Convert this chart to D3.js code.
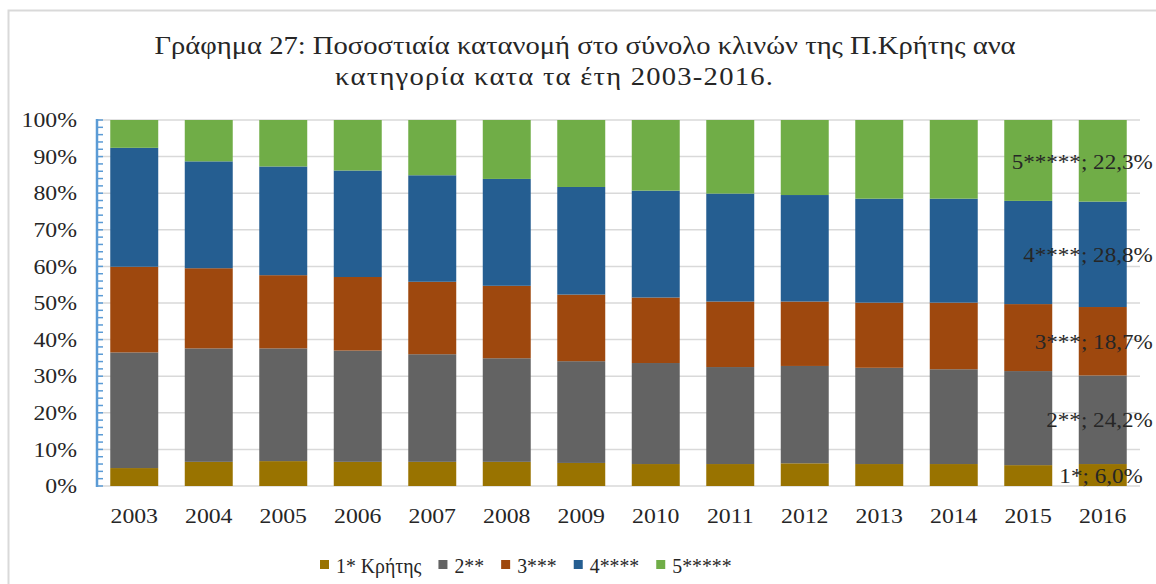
<!DOCTYPE html>
<html>
<head>
<meta charset="utf-8">
<script src="https://cdn.jsdelivr.net/npm/d3@7"></script>
<style>
  body { margin: 0; background: #fff; }
  svg { display: block; font-family: "Liberation Serif", "Times New Roman", serif; }
</style>
</head>
<body>
<svg id="chart" width="1156" height="584"></svg>
<script>
// years on the x axis
const years = ["2003","2004","2005","2006","2007","2008","2009","2010","2011","2012","2013","2014","2015","2016"];

// percentage of beds per category
const star1 = [4.9, 6.6, 6.8, 6.6, 6.6, 6.6, 6.3, 6.0, 6.0, 6.2, 6.0, 6.0, 5.7, 6.0];
const star2 = [31.6, 31.0, 30.8, 30.4, 29.4, 28.3, 27.8, 27.6, 26.5, 26.6, 26.3, 25.9, 25.7, 24.2];
const star3 = [23.4, 21.9, 20.0, 20.1, 19.8, 19.8, 18.2, 17.9, 17.9, 17.6, 17.8, 18.2, 18.3, 18.7];
const star4 = [32.5, 29.2, 29.7, 29.1, 29.1, 29.2, 29.4, 29.2, 29.5, 29.1, 28.4, 28.4, 28.2, 28.8];
const star5 = [7.6, 11.3, 12.7, 13.8, 15.1, 16.1, 18.3, 19.3, 20.1, 20.5, 21.5, 21.5, 22.1, 22.3];

const keys = ["s1", "s2", "s3", "s4", "s5"];
const legendNames = ["1* Κρήτης", "2**", "3***", "4****", "5*****"];
const labelNames = ["1*", "2**", "3***", "4****", "5*****"];
const colors = ["#997300", "#636363", "#9e480e", "#255e91", "#70ad47"];
const yTicks = [0, 10, 20, 30, 40, 50, 60, 70, 80, 90, 100];

const title1 = "Γράφημα 27: Ποσοστιαία κατανομή στο σύνολο κλινών της Π.Κρήτης ανα";
const title2 = "κατηγορία κατα τα έτη 2003-2016.";

const data = years.map((y, i) => ({
  year: y, s1: star1[i], s2: star2[i], s3: star3[i], s4: star4[i], s5: star5[i]
}));

const svg = d3.select("#chart");
const margin = {top: 120, right: 16, bottom: 98, left: 97};
const W = +svg.attr("width"), H = +svg.attr("height");
const ink = "#262626";

// the source text is a little wider than Liberation Serif, so stretch it
function stretched(sel, sx) {
  return sel.attr("transform", function() {
    const t = d3.select(this);
    return `translate(${t.attr("x")},${t.attr("y")}) scale(${sx},1)`;
  }).attr("x", 0).attr("y", 0);
}

// chart frame (cropped at right and bottom in the source)
svg.append("path")
  .attr("d", `M8.5,${H} V10.5 H${W}`)
  .attr("fill", "none")
  .attr("stroke", "#d9d9d9")
  .attr("stroke-width", 2);

const x = d3.scaleBand()
  .domain(years)
  .range([margin.left, W - margin.right])
  .paddingInner(0.356)
  .paddingOuter(0.178);

const y = d3.scaleLinear()
  .domain([0, 100])
  .range([H - margin.bottom, margin.top]);

const color = d3.scaleOrdinal().domain(keys).range(colors);

// gridlines
svg.append("g")
  .selectAll("line")
  .data(yTicks)
  .join("line")
  .attr("x1", margin.left)
  .attr("x2", W - margin.right)
  .attr("y1", d => y(d))
  .attr("y2", d => y(d))
  .attr("stroke", "#d9d9d9")
  .attr("stroke-width", 1.5);

// stacked bars
const series = d3.stack().keys(keys)(data);

svg.append("g")
  .selectAll("g")
  .data(series)
  .join("g")
  .attr("fill", d => color(d.key))
  .selectAll("rect")
  .data(d => d)
  .join("rect")
  .attr("x", d => x(d.data.year))
  .attr("y", d => y(d[1]))
  .attr("width", x.bandwidth())
  .attr("height", d => y(d[0]) - y(d[1]));

// y axis: blue line with minor ticks every 2%
const yAxis = svg.append("g")
  .attr("transform", `translate(${margin.left},0)`);

yAxis.append("line")
  .attr("x1", 0).attr("x2", 0)
  .attr("y1", y(0) + 1).attr("y2", y(100) - 1)
  .attr("stroke", "#5b9bd5")
  .attr("stroke-width", 2.5);

yAxis.selectAll(".minor")
  .data(d3.range(0, 101, 2))
  .join("line")
  .attr("class", "minor")
  .attr("x1", 0).attr("x2", 6)
  .attr("y1", d => y(d)).attr("y2", d => y(d))
  .attr("stroke", "#5b9bd5")
  .attr("stroke-width", 1.5);

yAxis.selectAll(".tick-label")
  .data(yTicks)
  .join("text")
  .attr("class", "tick-label")
  .attr("x", -20)
  .attr("y", d => y(d))
  .attr("dy", "0.33em")
  .attr("text-anchor", "end")
  .attr("font-size", "22px")
  .attr("fill", ink)
  .text(d => d + "%")
  .call(stretched, 1.08);

// x axis labels
svg.append("g")
  .selectAll("text")
  .data(years)
  .join("text")
  .attr("x", d => x(d) + x.bandwidth() / 2)
  .attr("y", H - margin.bottom + 37)
  .attr("text-anchor", "middle")
  .attr("font-size", "22px")
  .attr("fill", ink)
  .text(d => d)
  .call(stretched, 1.08);

// data labels on the last bar
const last = series.map((s, i) => ({
  name: labelNames[i],
  v: s[s.length - 1].data[s.key],
  mid: (s[s.length - 1][0] + s[s.length - 1][1]) / 2,
  year: s[s.length - 1].data.year
}));

svg.append("g")
  .selectAll("text")
  .data(last)
  .join("text")
  .attr("x", (d, i) => x(d.year) + x.bandwidth() + (i === 0 ? 16 : 26))
  .attr("y", d => y(d.mid))
  .attr("dy", "0.35em")
  .attr("text-anchor", "end")
  .attr("font-size", "22px")
  .attr("fill", ink)
  .text(d => d.name + "; " + d3.format(".1f")(d.v).replace(".", ",") + "%")
  .call(stretched, 1.05);

// title
const title = svg.append("g")
  .attr("font-size", "26px")
  .attr("fill", ink)
  .attr("text-anchor", "middle");

title.append("text").attr("x", 585).attr("y", 54).text(title1)
  .call(stretched, 1.1);
title.append("text").attr("x", 554).attr("y", 85).text(title2)
  .attr("textLength", 398).attr("lengthAdjust", "spacing")
  .call(stretched, 1.1);

// legend
const legend = svg.append("g")
  .attr("transform", `translate(320, 566)`)
  .attr("fill", ink);

let lx = 0;
legendNames.forEach((name, i) => {
  legend.append("rect")
    .attr("x", lx)
    .attr("y", -6)
    .attr("width", 9)
    .attr("height", 9)
    .attr("fill", colors[i]);
  const t = legend.append("text")
    .attr("x", lx + 16)
    .attr("y", 0)
    .attr("dy", "0.3em")
    .attr("font-size", "22px")
    .text(name);
  const w = t.node().getComputedTextLength() * 0.9;
  t.call(stretched, 0.9);
  lx += 16 + w + 17;
});
</script>
</body>
</html>
